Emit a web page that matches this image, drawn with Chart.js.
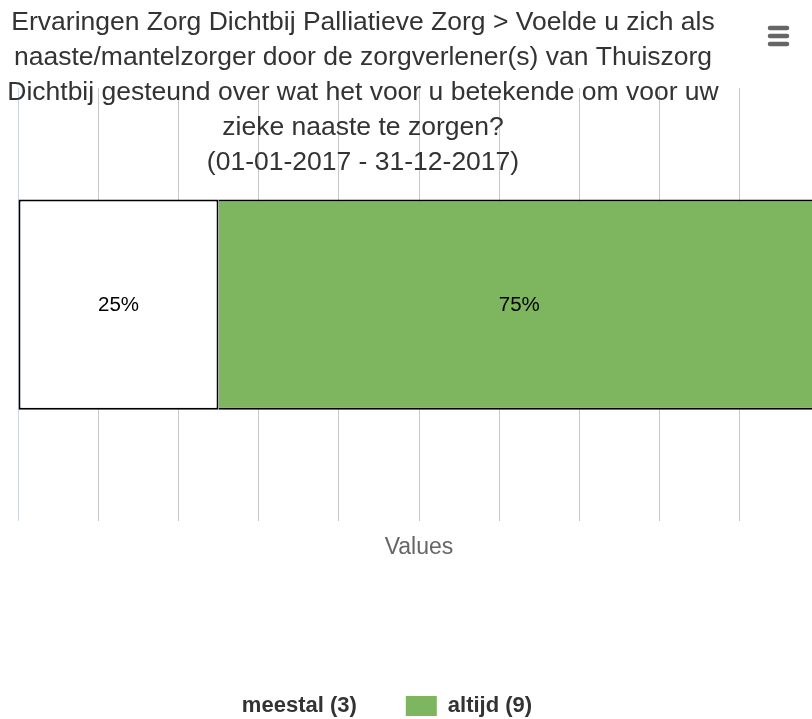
<!DOCTYPE html>
<html>
<head>
<meta charset="utf-8">
<script src="https://cdn.jsdelivr.net/npm/chart.js@4.4.1/dist/chart.umd.min.js"></script>
<style>
  html, body { margin: 0; padding: 0; background: #fff; overflow: hidden; }
  #wrap { position: relative; width: 836px; height: 719px; }
</style>
</head>
<body>
<div id="wrap"><canvas id="grafiek"></canvas></div>
<script>
const titleLines = [
  'Ervaringen Zorg Dichtbij Palliatieve Zorg > Voelde u zich als',
  'naaste/mantelzorger door de zorgverlener(s) van Thuiszorg',
  'Dichtbij gesteund over wat het voor u betekende om voor uw',
  'zieke naaste te zorgen?',
  '(01-01-2017 - 31-12-2017)'
];
const categories = ['Antwoorden'];
const seriesNames = ['meestal', 'altijd'];
const meestal = [3];
const altijd = [9];
const xTicks = [0, 10, 20, 30, 40, 50, 60, 70, 80, 90, 100];
const axisTitle = 'Values';

const FONT = "'Liberation Sans', Arial, sans-serif";

// percent stacking, like the original
const totals = categories.map((c, i) => meestal[i] + altijd[i]);
const pct = arr => arr.map((v, i) => v / totals[i] * 100);

const decor = {
  id: 'decor',
  afterLayout(chart) {
    const lg = chart.legend;
    lg.left -= 53; lg.right -= 53;
    lg.top += 8; lg.bottom += 8;
  },
  afterDatasetsDraw(chart) {
    const ctx = chart.ctx;
    ctx.save();
    ctx.font = '20.5px ' + FONT;
    ctx.fillStyle = '#000';
    ctx.textAlign = 'center';
    ctx.textBaseline = 'middle';
    chart.data.datasets.forEach((ds, i) => {
      chart.getDatasetMeta(i).data.forEach((el, j) => {
        ctx.fillText(Math.round(ds.data[j]) + '%', (el.x + el.base) / 2, el.y + 1);
      });
    });
    ctx.restore();
  },
  afterDraw(chart) {
    const ctx = chart.ctx;
    ctx.save();
    ctx.font = '26.5px ' + FONT;
    ctx.fillStyle = '#333';
    ctx.textAlign = 'center';
    ctx.textBaseline = 'middle';
    titleLines.forEach((t, i) => ctx.fillText(t, 363, 23 + i * 35));
    // export menu icon
    ctx.strokeStyle = '#666';
    ctx.lineWidth = 4.5;
    ctx.lineCap = 'round';
    [28, 36, 44].forEach(y => {
      ctx.beginPath();
      ctx.moveTo(770, y);
      ctx.lineTo(787, y);
      ctx.stroke();
    });
    ctx.restore();
  }
};

new Chart(document.getElementById('grafiek'), {
  type: 'bar',
  data: {
    labels: categories,
    datasets: [
      {
        label: seriesNames[0] + ' (' + meestal[0] + ')',
        data: pct(meestal),
        backgroundColor: '#ffffff',
        borderColor: '#000',
        borderWidth: 2,
        borderSkipped: false
      },
      {
        label: seriesNames[1] + ' (' + altijd[0] + ')',
        data: pct(altijd),
        backgroundColor: '#7eb55f',
        borderColor: '#000',
        borderWidth: 2,
        borderSkipped: 'start'
      }
    ]
  },
  options: {
    indexAxis: 'y',
    responsive: true,
    maintainAspectRatio: false,
    animation: false,
    layout: { padding: { top: 88, left: 18, right: 16, bottom: 0 } },
    datasets: { bar: { categoryPercentage: 1, barPercentage: 0.485 } },
    scales: {
      x: {
        stacked: true,
        min: 0,
        max: 100,
        afterBuildTicks: axis => { axis.ticks = xTicks.map(v => ({ value: v })); },
        ticks: { display: false },
        grid: {
          drawTicks: false,
          color: c => c.index === 0 ? '#ccd6eb' : '#c8c8c8',
          lineWidth: 1
        },
        border: { display: false },
        title: {
          display: true,
          text: axisTitle,
          color: '#666',
          font: { family: FONT, size: 23 },
          padding: { top: 12, bottom: 77 }
        }
      },
      y: {
        stacked: true,
        display: false
      }
    },
    plugins: {
      legend: {
        position: 'bottom',
        labels: {
          color: '#333',
          font: { family: FONT, size: 22, weight: 'bold' },
          boxWidth: 31,
          boxHeight: 20,
          padding: 49,
          generateLabels: chart => {
            const items = Chart.defaults.plugins.legend.labels.generateLabels(chart);
            items.forEach(it => { it.lineWidth = 0; it.strokeStyle = it.fillStyle; });
            return items;
          }
        }
      },
      tooltip: { enabled: false }
    }
  },
  plugins: [decor]
});
</script>
</body>
</html>
